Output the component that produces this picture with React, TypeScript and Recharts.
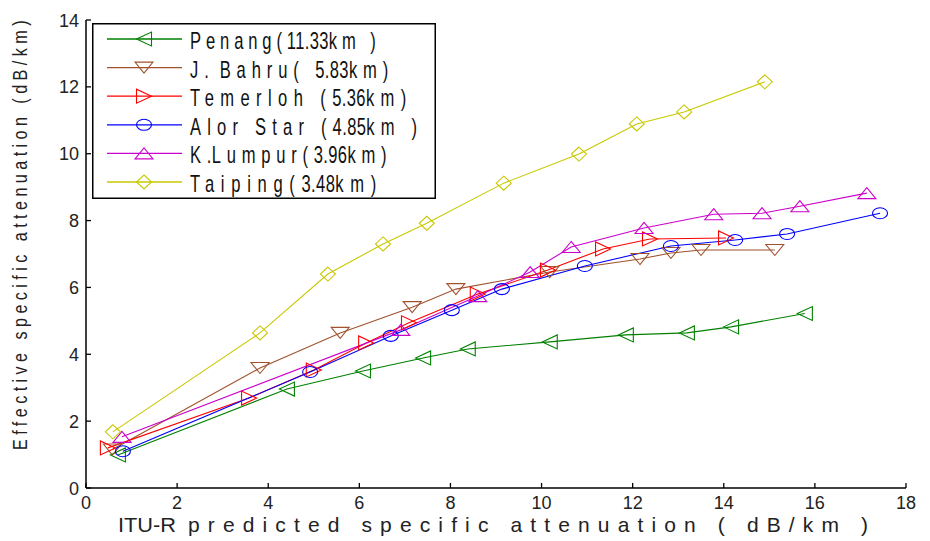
import React from 'react';
import { LineChart, Line, XAxis, YAxis, Legend } from 'recharts';

type Pt = { x: number; y: number };

const penang: Pt[] = [
  { x: 0.7, y: 0.99 }, { x: 4.41, y: 2.96 }, { x: 6.08, y: 3.5 }, { x: 7.4, y: 3.89 },
  { x: 8.38, y: 4.16 }, { x: 10.18, y: 4.37 }, { x: 11.85, y: 4.58 }, { x: 13.19, y: 4.64 },
  { x: 14.16, y: 4.82 }, { x: 15.78, y: 5.22 },
];
const jBahru: Pt[] = [
  { x: 0.58, y: 1.15 }, { x: 3.82, y: 3.59 }, { x: 5.58, y: 4.64 }, { x: 7.16, y: 5.41 },
  { x: 8.12, y: 5.95 }, { x: 10.18, y: 6.46 }, { x: 12.16, y: 6.85 }, { x: 12.84, y: 7.03 },
  { x: 13.5, y: 7.12 }, { x: 15.12, y: 7.12 },
];
const temerloh: Pt[] = [
  { x: 0.48, y: 1.2 }, { x: 3.58, y: 2.69 }, { x: 5.0, y: 3.53 }, { x: 6.15, y: 4.34 },
  { x: 7.09, y: 4.94 }, { x: 8.6, y: 5.8 }, { x: 10.14, y: 6.52 }, { x: 11.35, y: 7.15 },
  { x: 12.38, y: 7.45 }, { x: 14.05, y: 7.48 },
];
const alorStar: Pt[] = [
  { x: 0.81, y: 1.1 }, { x: 4.92, y: 3.47 }, { x: 6.69, y: 4.55 }, { x: 8.03, y: 5.32 },
  { x: 9.13, y: 5.95 }, { x: 10.95, y: 6.64 }, { x: 12.84, y: 7.24 }, { x: 14.25, y: 7.42 },
  { x: 15.39, y: 7.6 }, { x: 17.43, y: 8.22 },
];
const kLumpur: Pt[] = [
  { x: 0.79, y: 1.53 }, { x: 6.91, y: 4.73 }, { x: 8.6, y: 5.74 }, { x: 9.75, y: 6.46 },
  { x: 10.65, y: 7.21 }, { x: 12.25, y: 7.78 }, { x: 13.78, y: 8.19 }, { x: 14.84, y: 8.22 },
  { x: 15.67, y: 8.43 }, { x: 17.14, y: 8.82 },
];
const taiping: Pt[] = [
  { x: 0.59, y: 1.68 }, { x: 3.82, y: 4.64 }, { x: 5.31, y: 6.4 }, { x: 6.52, y: 7.3 },
  { x: 7.48, y: 7.92 }, { x: 9.17, y: 9.12 }, { x: 10.82, y: 9.99 }, { x: 12.09, y: 10.89 },
  { x: 13.13, y: 11.25 }, { x: 14.9, y: 12.15 },
];

const X_TICKS = [0, 2, 4, 6, 8, 10, 12, 14, 16, 18];
const Y_TICKS = [0, 2, 4, 6, 8, 10, 12, 14];

const X_TITLE_A = 'ITU-R';
const X_TITLE_B = 'predicted specific attenuation ( dB/km )';
const Y_TITLE = 'Effective specific attenuation (dB/km)';

type Shape = 'left' | 'down' | 'right' | 'circle' | 'up' | 'diamond';

const SERIES: { name: string; data: Pt[]; color: string; shape: Shape; spacing: number }[] = [
  { name: 'Penang(11.33km )', data: penang, color: '#008000', shape: 'left', spacing: 6.8 },
  { name: 'J. Bahru( 5.83km)', data: jBahru, color: '#A0522D', shape: 'down', spacing: 8.2 },
  { name: 'Temerloh (5.36km)', data: temerloh, color: '#FF0000', shape: 'right', spacing: 8.9 },
  { name: 'Alor Star (4.85km )', data: alorStar, color: '#0000FF', shape: 'circle', spacing: 8.6 },
  { name: 'K.Lumpur(3.96km)', data: kLumpur, color: '#CC00CC', shape: 'up', spacing: 8 },
  { name: 'Taiping(3.48km)', data: taiping, color: '#C8C800', shape: 'diamond', spacing: 9.3 },
];

const FONT = "'Liberation Sans', Arial, Helvetica, sans-serif";
const LEGEND_SCALE = 0.72;
const YTITLE_SCALE = 0.77;

function Marker({ shape, cx, cy, color }: { shape: Shape; cx: number; cy: number; color: string }) {
  const common = { fill: 'none', stroke: color, strokeWidth: 1.1 };
  if (cx == null || cy == null || isNaN(cx) || isNaN(cy)) return <g />;
  switch (shape) {
    case 'left':
      return <polygon {...common} points={`${cx - 7.5},${cy} ${cx + 7.5},${cy - 7} ${cx + 7.5},${cy + 7}`} />;
    case 'right':
      return <polygon {...common} points={`${cx + 7.5},${cy} ${cx - 7.5},${cy - 7} ${cx - 7.5},${cy + 7}`} />;
    case 'down':
      return <polygon {...common} points={`${cx},${cy + 5.5} ${cx - 9},${cy - 5.5} ${cx + 9},${cy - 5.5}`} />;
    case 'up':
      return <polygon {...common} points={`${cx},${cy - 5.5} ${cx - 9},${cy + 5.5} ${cx + 9},${cy + 5.5}`} />;
    case 'circle':
      return <ellipse {...common} cx={cx} cy={cy} rx={7.5} ry={5.5} />;
    case 'diamond':
    default:
      return <polygon {...common} points={`${cx},${cy - 7} ${cx + 7.5},${cy} ${cx},${cy + 7} ${cx - 7.5},${cy}`} />;
  }
}

function runs(label: string) {
  const out: { t: string; digits: boolean }[] = [];
  const re = /[\d.]+|[^\d.]+/g;
  let m: RegExpExecArray | null;
  while ((m = re.exec(label)) !== null) {
    out.push({ t: m[0], digits: /^[\d.]+$/.test(m[0]) });
  }
  return out;
}

const BottomTick = (p: any) => {
  const { x, y, payload } = p;
  return (
    <g>
      <line x1={x} x2={x} y1={y - 8} y2={y - 13} stroke="#000" strokeWidth={1.3} />
      <text x={x} y={y + 13} textAnchor="middle" fontSize={18} fill="#222" fontFamily={FONT}>
        {payload.value}
      </text>
    </g>
  );
};

const LeftTick = (p: any) => {
  const { x, y, payload } = p;
  return (
    <g>
      <line x1={x + 7} x2={x + 12} y1={y} y2={y} stroke="#000" strokeWidth={1.3} />
      <text x={x} y={y + 6.5} textAnchor="end" fontSize={18} fill="#222" fontFamily={FONT}>
        {payload.value}
      </text>
    </g>
  );
};

const TopTick = (p: any) => {
  const { x, y } = p;
  return <line x1={x} x2={x} y1={y} y2={y + 5} stroke="#000" strokeWidth={1.3} />;
};

const RightTick = (p: any) => {
  const { x, y } = p;
  return <line x1={x} x2={x - 5} y1={y} y2={y} stroke="#000" strokeWidth={1.3} />;
};

const XTitle = (props: any) => {
  const vb = props.viewBox || { x: 86, y: 488 };
  return (
    <g>
      <text x={vb.x + 32} y={vb.y + 44} fontSize={21} fill="#222" fontFamily={FONT} textLength={58} lengthAdjust="spacingAndGlyphs">
        {X_TITLE_A}
      </text>
      <text
        x={vb.x + 102}
        y={vb.y + 44}
        fontSize={21}
        fill="#222"
        fontFamily={FONT}
        letterSpacing={8}
        textLength={688}
        lengthAdjust="spacing"
      >
        {X_TITLE_B}
      </text>
    </g>
  );
};

const YTitle = (props: any) => {
  const vb = props.viewBox || { x: 0, y: 20 };
  const bx = vb.x + 27;
  const by = vb.y + 430;
  return (
    <g transform={`translate(${bx} ${by}) rotate(-90) scale(${YTITLE_SCALE} 1)`}>
      <text
        x={0}
        y={0}
        fontSize={21}
        fill="#222"
        fontFamily={FONT}
        letterSpacing={5.8}
        textLength={434 / YTITLE_SCALE}
        lengthAdjust="spacing"
      >
        {Y_TITLE}
      </text>
    </g>
  );
};

const LegendBox = () => (
  <svg width={344} height={176} style={{ display: 'block' }}>
    <rect x={0.75} y={0.75} width={342.5} height={174.5} fill="#fff" stroke="#000" strokeWidth={1.5} />
    {SERIES.map((s, i) => {
      const ry = 16 + i * 28.6;
      return (
        <g key={s.name}>
          <line x1={15} x2={90} y1={ry} y2={ry} stroke={s.color} strokeWidth={1.3} />
          <Marker shape={s.shape} cx={52} cy={ry} color={s.color} />
          <g transform={`translate(98 ${ry + 10}) scale(${LEGEND_SCALE} 1)`}>
            <text x={0} y={0} fontSize={23} fill="#111" fontFamily={FONT}>
              {runs(s.name).map((r, k) => (
                <tspan key={k} letterSpacing={r.digits ? 0.5 : s.spacing}>
                  {r.t}
                </tspan>
              ))}
            </text>
          </g>
        </g>
      );
    })}
  </svg>
);

export default function App() {
  return (
    <div style={{ position: 'absolute', left: 0, top: 0, width: 930, height: 541, background: '#fff' }}>
      <LineChart width={930} height={541} margin={{ top: 20, right: 24, bottom: 0, left: 0 }}>
        <XAxis
          xAxisId={0}
          type="number"
          dataKey="x"
          domain={[0, 18]}
          ticks={X_TICKS}
          interval={0}
          allowDataOverflow
          height={53}
          tickSize={0}
          tickMargin={8}
          tickLine={false}
          axisLine={{ stroke: '#000', strokeWidth: 1.5 }}
          tick={(p: any) => <BottomTick {...p} />}
          label={{ content: (p: any) => <XTitle {...p} /> }}
        />
        <XAxis
          xAxisId="top"
          orientation="top"
          type="number"
          dataKey="x"
          domain={[0, 18]}
          ticks={X_TICKS}
          interval={0}
          allowDataOverflow
          height={0}
          tickSize={0}
          tickMargin={0}
          tickLine={false}
          axisLine={{ stroke: '#000', strokeWidth: 1.5 }}
          tick={(p: any) => <TopTick {...p} />}
        />
        <YAxis
          yAxisId={0}
          type="number"
          domain={[0, 14]}
          ticks={Y_TICKS}
          interval={0}
          allowDataOverflow
          width={86}
          tickSize={0}
          tickMargin={7}
          tickLine={false}
          axisLine={{ stroke: '#000', strokeWidth: 1.5 }}
          tick={(p: any) => <LeftTick {...p} />}
          label={{ content: (p: any) => <YTitle {...p} /> }}
        />
        <YAxis
          yAxisId="right"
          orientation="right"
          type="number"
          domain={[0, 14]}
          ticks={Y_TICKS}
          interval={0}
          allowDataOverflow
          width={0}
          tickSize={0}
          tickMargin={0}
          tickLine={false}
          axisLine={{ stroke: '#000', strokeWidth: 1.5 }}
          tick={(p: any) => <RightTick {...p} />}
        />
        {SERIES.map((s) => (
          <Line
            key={s.name}
            name={s.name}
            data={s.data}
            dataKey="y"
            xAxisId={0}
            yAxisId={0}
            type="linear"
            stroke={s.color}
            strokeWidth={1.1}
            isAnimationActive={false}
            activeDot={false}
            dot={(p: any) => <Marker key={`${s.name}-${p.index}`} shape={s.shape} cx={p.cx} cy={p.cy} color={s.color} />}
          />
        ))}
        <Legend
          layout="vertical"
          align="center"
          verticalAlign="middle"
          content={() => <LegendBox />}
          wrapperStyle={{ position: 'absolute', left: 92, top: 23, width: 344, height: 176 }}
        />
      </LineChart>
    </div>
  );
}
